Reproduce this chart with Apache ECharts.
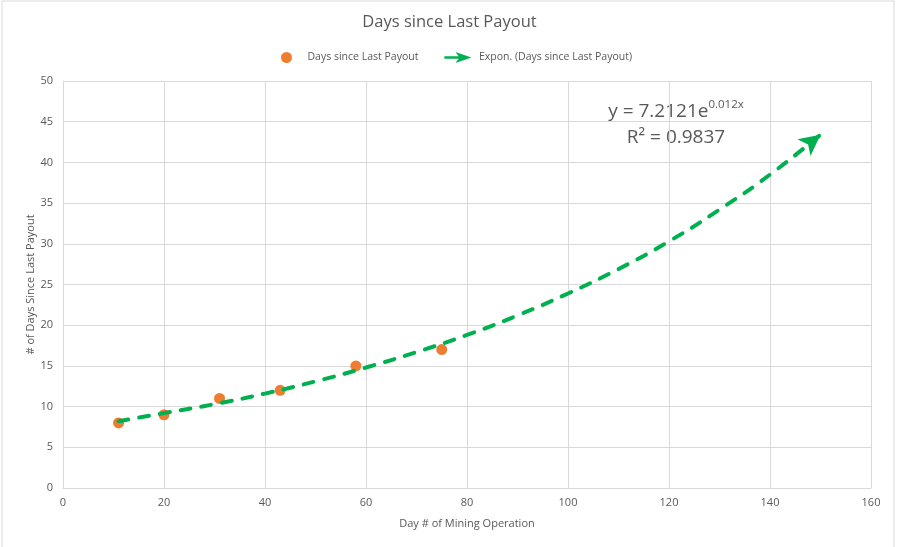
<!DOCTYPE html>
<html><head><meta charset="utf-8">
<script src="https://cdn.jsdelivr.net/npm/echarts@6/dist/echarts.min.js"></script>
<style>html,body{margin:0;padding:0;background:#fff}#c{width:899px;height:547px}</style>
</head><body><div id="c"></div>
<script>
const title = "Days since Last Payout";
const scatterName = "Days since Last Payout";
const trendName = "Expon. (Days since Last Payout)";
const dayX = [11, 20, 31, 43, 58, 75];
const daysSince = [8, 9, 11, 12, 15, 17];
// trendline values
const trendX = [11, 20, 30, 40, 50, 60, 70, 80, 90, 100, 110, 120, 130, 140, 150];
const trendY = [8.2, 9.2, 10.3, 11.6, 13.1, 14.8, 16.7, 18.8, 21.2, 23.9, 26.9, 30.3, 34.2, 38.5, 43.4];
const xTicks = [0, 20, 40, 60, 80, 100, 120, 140, 160];
const yTicks = [0, 5, 10, 15, 20, 25, 30, 35, 40, 45, 50];
const eqLine1 = ["y = 7.2121e", "0.012x"];
const eqLine2 = "R² = 0.9837";

const FONT = '"Open Sans", "Noto Sans", sans-serif';
const chart = echarts.init(document.getElementById('c'));
const green = '#00b050', orange = '#ed7d31', grey = '#595959';
const last = trendX.length - 1;

chart.setOption({
  animation: false,
  backgroundColor: '#fff',
  textStyle: { fontFamily: FONT },
  title: {
    text: title, left: 'center', top: 9,
    textStyle: { fontFamily: FONT, fontSize: 16.5, fontWeight: 'normal', color: grey }
  },
  legend: {
    top: 47, left: 276, itemGap: 26,
    textStyle: { fontFamily: FONT, fontSize: 10.5, color: grey },
    data: [
      { name: scatterName, icon: 'circle', itemStyle: { color: orange } },
      { name: trendName, icon: 'path://M0,5 L18,5 L18,8 L0,8 Z M13,0 L32,6.5 L13,13 L18,6.5 Z', itemStyle: { color: green } }
    ],
    itemWidth: 32, itemHeight: 11
  },
  grid: { left: 63, right: 28, top: 81, bottom: 59, containLabel: false },
  xAxis: {
    type: 'value', min: xTicks[0], max: xTicks[xTicks.length - 1], interval: 20,
    name: 'Day # of Mining Operation', nameLocation: 'middle', nameGap: 30,
    nameTextStyle: { fontFamily: FONT, fontSize: 11, color: grey },
    axisLine: { show: true, lineStyle: { color: '#d9d9d9' } },
    axisTick: { show: false },
    axisLabel: { fontFamily: FONT, fontSize: 11, color: grey, margin: 9 },
    splitLine: { show: true, lineStyle: { color: '#d9d9d9' } }
  },
  yAxis: {
    type: 'value', min: yTicks[0], max: yTicks[yTicks.length - 1], interval: 5,
    name: '# of Days Since Last Payout', nameLocation: 'middle', nameGap: 27, nameRotate: 90,
    nameMoveOverlap: false,
    nameTextStyle: { fontFamily: FONT, fontSize: 11, color: grey },
    axisLine: { show: true, lineStyle: { color: '#d9d9d9' } },
    axisTick: { show: false },
    axisLabel: { fontFamily: FONT, fontSize: 11, color: grey, margin: 10 },
    splitLine: { show: true, lineStyle: { color: '#d9d9d9' } }
  },
  graphic: [
    { type: 'rect', shape: { x: 2, y: 1, width: 892, height: 600 }, style: { fill: 'none', stroke: '#d9d9d9', lineWidth: 1 }, silent: true, z: -1 },
    {
      type: 'text', x: 676, y: 99,
      style: {
        text: '{a|' + eqLine1[0] + '}{b|' + eqLine1[1] + '}\n{c|' + eqLine2 + '}',
        fill: grey, align: 'center',
        rich: {
          a: { fontFamily: FONT, fontSize: 19, fill: grey, color: grey, lineHeight: 26 },
          b: { fontFamily: FONT, fontSize: 11.5, fill: grey, color: grey, verticalAlign: 'top', padding: [0, 0, 12, 0], lineHeight: 26 },
          c: { fontFamily: FONT, fontSize: 19, fill: grey, color: grey, lineHeight: 26, align: 'center' }
        }
      }
    }
  ],
  series: [
    {
      name: trendName, type: 'line', smooth: true, showSymbol: false, symbol: 'none',
      data: trendX.map((x, i) => [x, trendY[i]]),
      lineStyle: { color: green, width: 4, type: [10, 11], cap: 'round' },
      itemStyle: { color: green }, z: 3
    },
    {
      name: trendName + ' arrow', type: 'scatter',
      data: [[trendX[last], trendY[last]]],
      symbol: 'arrow', symbolSize: [16, 21], symbolRotate: -52, symbolOffset: [0, 0],
      itemStyle: { color: green, opacity: 1 }, z: 4, silent: true
    },
    {
      name: scatterName, type: 'scatter', symbol: 'circle', symbolSize: 11,
      data: dayX.map((x, i) => [x, daysSince[i]]),
      itemStyle: { color: orange, opacity: 1 }, z: 2
    }
  ]
});
</script></body></html>
